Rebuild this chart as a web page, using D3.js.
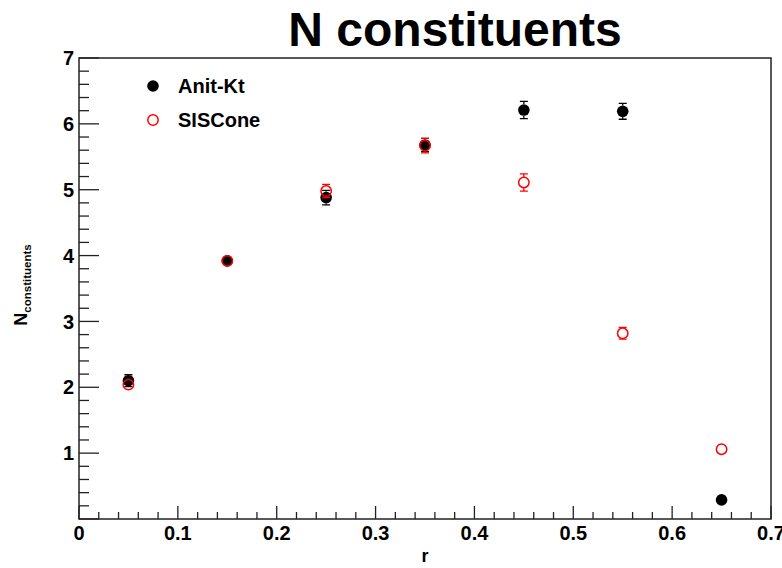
<!DOCTYPE html>
<html>
<head>
<meta charset="utf-8">
<script src="https://cdn.jsdelivr.net/npm/d3@7"></script>
<style>
  html, body { margin: 0; padding: 0; background: #fff; }
  svg text { font-family: "Liberation Sans", Arial, Helvetica, sans-serif; font-weight: bold; }
</style>
</head>
<body>
<svg id="chart" width="782" height="568"></svg>
<script>
// Jet radius bins (bin centres) and mean number of constituents per algorithm
const rValues = [0.05, 0.15, 0.25, 0.35, 0.45, 0.55, 0.65];
const antiKtMean = [2.10, 3.92, 4.88, 5.68, 6.21, 6.19, 0.29];
const antiKtErr  = [0.09, 0.06, 0.11, 0.10, 0.13, 0.12, 0.08];
const sisConeMean = [2.04, 3.92, 4.98, 5.67, 5.11, 2.82, 1.06];
const sisConeErr  = [0.07, 0.06, 0.10, 0.11, 0.13, 0.09, 0.06];
const seriesNames = ["Anit-Kt", "SISCone"];
const xTickLabels = ["0", "0.1", "0.2", "0.3", "0.4", "0.5", "0.6", "0.7"];
const yTickLabels = ["1", "2", "3", "4", "5", "6", "7"];

const svg = d3.select("#chart");
const frame = { left: 79, right: 771, top: 58, bottom: 519 };

const x = d3.scaleLinear().domain([0, 0.7]).range([frame.left, frame.right]);
const y = d3.scaleLinear().domain([0, 7]).range([frame.bottom, frame.top]);

const axisColor = "#222";

// Frame
svg.append("rect")
  .attr("x", frame.left).attr("y", frame.top)
  .attr("width", frame.right - frame.left)
  .attr("height", frame.bottom - frame.top)
  .attr("fill", "none").attr("stroke", axisColor).attr("stroke-width", 1.5);

// X axis ticks (major every 0.1, minor every 0.02), drawn inward
const xMinor = d3.range(0, 36).map(i => +(i * 0.02).toFixed(2));
svg.append("g").selectAll("line").data(xMinor).join("line")
  .attr("x1", d => x(d)).attr("x2", d => x(d))
  .attr("y1", frame.bottom)
  .attr("y2", (d, i) => frame.bottom - (i % 5 === 0 ? 13 : 7))
  .attr("stroke", axisColor).attr("stroke-width", 1.3);

svg.append("g").selectAll("text").data(xTickLabels).join("text")
  .attr("x", d => x(+d)).attr("y", 540)
  .attr("text-anchor", "middle")
  .attr("font-size", 20)
  .attr("fill", "#000")
  .text(d => d);

// Y axis ticks (major every 1, minor every 0.2), drawn inward
const yMinor = d3.range(0, 36).map(i => +(i * 0.2).toFixed(1));
svg.append("g").selectAll("line").data(yMinor).join("line")
  .attr("y1", d => y(d)).attr("y2", d => y(d))
  .attr("x1", frame.left)
  .attr("x2", (d, i) => frame.left + (i % 5 === 0 ? 20 : 10))
  .attr("stroke", axisColor).attr("stroke-width", 1.3);

svg.append("g").selectAll("text").data(yTickLabels).join("text")
  .attr("x", 74).attr("y", d => y(+d))
  .attr("dy", "0.36em")
  .attr("text-anchor", "end")
  .attr("font-size", 20)
  .attr("fill", "#000")
  .text(d => d);

// Title
svg.append("text")
  .attr("x", 455).attr("y", 46)
  .attr("text-anchor", "middle")
  .attr("font-size", 48)
  .text("N constituents");

// Axis titles
svg.append("text")
  .attr("x", (frame.left + frame.right) / 2).attr("y", 562)
  .attr("text-anchor", "middle")
  .attr("font-size", 18)
  .text("r");

const yTitle = svg.append("text")
  .attr("transform", "translate(27,285) rotate(-90)")
  .attr("text-anchor", "middle")
  .attr("font-size", 18);
yTitle.append("tspan").text("N");
yTitle.append("tspan").attr("font-size", 11.5).attr("dy", 4).text("constituents");

// Data series: filled black dots, hollow red rings drawn on top
const series = [
  { name: seriesNames[0], mean: antiKtMean, err: antiKtErr, color: "#000", filled: true },
  { name: seriesNames[1], mean: sisConeMean, err: sisConeErr, color: "#ff0000", filled: false }
];

const capW = 4;
series.forEach(s => {
  const mr = s.filled ? 5.8 : 5.2;
  const pts = rValues.map((r, i) => ({ r, v: s.mean[i], e: s.err[i] }));
  const g = svg.append("g");
  // error bars with end caps, kept outside the marker
  g.selectAll("path.err").data(pts).join("path")
    .attr("class", "err")
    .attr("d", d => {
      const cx = x(d.r), cy = y(d.v);
      const yLo = y(d.v - d.e), yHi = y(d.v + d.e);
      const ePx = yLo - cy;
      if (ePx <= mr) return "";
      return `M${cx},${cy - mr}V${yHi}M${cx - capW},${yHi}H${cx + capW}` +
             `M${cx},${cy + mr}V${yLo}M${cx - capW},${yLo}H${cx + capW}`;
    })
    .attr("stroke", s.color).attr("stroke-width", 1.3).attr("fill", "none");
  // markers
  g.selectAll("circle").data(pts).join("circle")
    .attr("cx", d => x(d.r)).attr("cy", d => y(d.v))
    .attr("r", mr)
    .attr("fill", s.filled ? s.color : "none")
    .attr("stroke", s.color)
    .attr("stroke-width", s.filled ? 0 : 1.5);
});

// Legend
const legend = svg.append("g");
series.forEach((s, i) => {
  const ly = 86 + i * 34;
  legend.append("circle")
    .attr("cx", 153).attr("cy", ly)
    .attr("r", s.filled ? 5.8 : 5.2)
    .attr("fill", s.filled ? s.color : "none")
    .attr("stroke", s.color)
    .attr("stroke-width", s.filled ? 0 : 1.5);
  legend.append("text")
    .attr("x", 178).attr("y", ly)
    .attr("dy", "0.36em")
    .attr("font-size", 20)
    .text(s.name);
});
</script>
</body>
</html>
